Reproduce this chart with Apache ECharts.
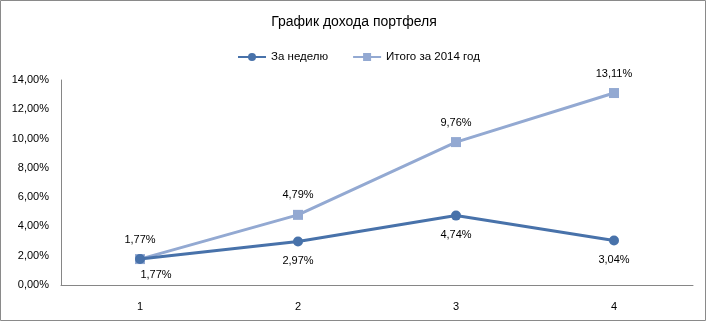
<!DOCTYPE html>
<html><head><meta charset="utf-8">
<script src="https://cdn.jsdelivr.net/npm/echarts@6/dist/echarts.min.js"></script>
<style>html,body{margin:0;padding:0;background:#fff}#c{width:708px;height:323px}</style>
</head><body><div id="c"></div>
<script>
const categories = ['1','2','3','4'];
const weekly = [1.77, 2.97, 4.74, 3.04];
const total2014 = [1.77, 4.79, 9.76, 13.11];
const yTicks = [0, 2, 4, 6, 8, 10, 12, 14];
const seriesNames = ['За неделю', 'Итого за 2014 год'];
const titleText = 'График дохода портфеля';

const fmt = v => v.toFixed(2).replace('.', ',') + '%';
const font = 'Liberation Sans, Arial, sans-serif';
const chart = echarts.init(document.getElementById('c'));
chart.setOption({
  animation: false,
  textStyle: {fontFamily: font},
  title: {text: titleText, left: 'center', top: 10, textStyle: {fontSize: 14, fontWeight: 'normal', color: '#000', fontFamily: font}},
  legend: {top: 46, left: 232, itemGap: 24, itemWidth: 28, itemHeight: 10, textStyle: {fontSize: 11.5, color: '#000'}, data: seriesNames},
  grid: {left: 61, right: 15, top: 80, bottom: 38},
  graphic: [{type: 'rect', shape: {x: 0.5, y: 0.5, width: 705, height: 320}, style: {fill: 'none', stroke: '#8a8a8a', lineWidth: 1}, silent: true}],
  xAxis: {type: 'category', data: categories, boundaryGap: true,
    axisLine: {lineStyle: {color: '#868686'}}, axisTick: {show: false},
    axisLabel: {color: '#000', fontSize: 11, margin: 16}},
  yAxis: {type: 'value', min: yTicks[0], max: yTicks[yTicks.length-1], interval: 2,
    axisLine: {show: true, lineStyle: {color: '#868686'}}, axisTick: {show: false}, splitLine: {show: false},
    axisLabel: {color: '#000', fontSize: 11, margin: 12, formatter: v => fmt(v)}},
  series: [
    {name: seriesNames[0], type: 'line', data: weekly.map((v, i) => i === 0 ? {value: v, label: {offset: [16, -4]}} : v), z: 3,
      symbol: 'circle', symbolSize: 10, lineStyle: {width: 3, color: '#4872AA'}, itemStyle: {color: '#4872AA'},
      label: {show: true, position: 'bottom', distance: 9, fontSize: 11, color: '#000', formatter: p => fmt(p.value)}},
    {name: seriesNames[1], type: 'line', data: total2014, z: 2,
      symbol: 'rect', symbolSize: 10, lineStyle: {width: 3, color: '#93A9D2'}, itemStyle: {color: '#93A9D2'},
      label: {show: true, position: 'top', distance: 9, fontSize: 11, color: '#000', formatter: p => fmt(p.value)}}
  ]
});
</script></body></html>
